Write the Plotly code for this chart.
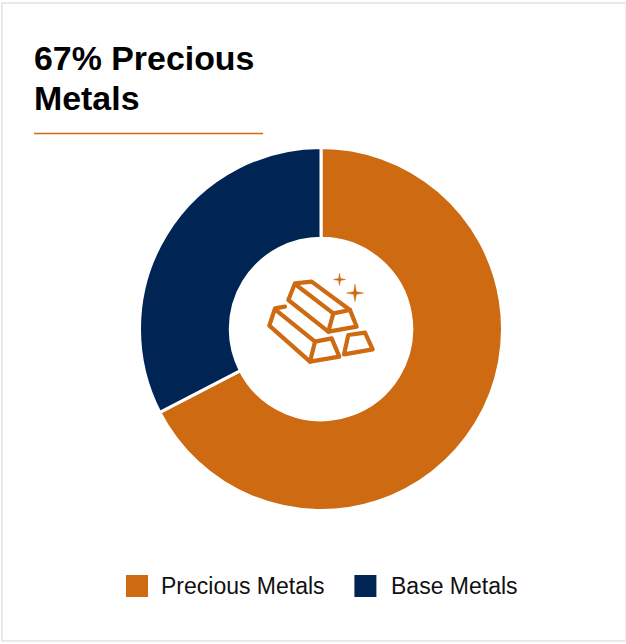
import plotly.graph_objects as go

categories = ["Precious Metals", "Base Metals"]
values = [67.4, 32.6]
colors = ["#CE6A12", "#002554"]
title_lines = ["67% Precious", "Metals"]

W, H = 626, 644

def px(x):
    return x / W

def py(y):
    return 1 - y / H

def path(points, close=False):
    s = "M " + " L ".join(f"{px(x):.5f},{py(y):.5f}" for x, y in points)
    return s + (" Z" if close else "")

def ic(points):
    return [(250 + x / 3, 260 + y / 3) for x, y in points]

def sparkle(cx, cy, r):
    k = r * 0.16
    return [(cx, cy - r), (cx + k, cy - k), (cx + r, cy), (cx + k, cy + k),
            (cx, cy + r), (cx - k, cy + k), (cx - r, cy), (cx - k, cy - k)]

ICON = colors[0]
icon_paths = [
    (ic([(135, 70), (185, 65), (300, 150), (320, 200), (235, 215), (115, 120)]), True),
    (ic([(135, 72), (250, 160), (235, 215)]), False),
    (ic([(250, 160), (300, 150)]), False),
    (ic([(105, 140), (75, 145), (58, 197), (180, 305), (268, 290), (245, 235), (195, 245), (75, 148)]), False),
    (ic([(195, 245), (180, 305)]), False),
    (ic([(295, 225), (345, 218), (368, 268), (282, 283)]), True),
]

shapes = []
for pts, closed in icon_paths:
    shapes.append(dict(type="path", xref="paper", yref="paper", path=path(pts, closed),
                       line=dict(color=ICON, width=4.2)))
for cx, cy, r in [(339.5, 279.5, 6), (355, 293, 8.5)]:
    shapes.append(dict(type="path", xref="paper", yref="paper", path=path(sparkle(cx, cy, r), True),
                       fillcolor=ICON, line=dict(color=ICON, width=0.5)))

# card border, title rule, legend swatches
BORDER = "#E6E6E6"
shapes += [
    dict(type="rect", xref="paper", yref="paper", x0=px(1), x1=px(2.7), y0=py(2.3), y1=py(641.7),
         fillcolor=BORDER, line=dict(width=0)),
    dict(type="rect", xref="paper", yref="paper", x0=px(1), x1=px(626), y0=py(2.3), y1=py(4),
         fillcolor=BORDER, line=dict(width=0)),
    dict(type="rect", xref="paper", yref="paper", x0=px(1), x1=px(626), y0=py(640), y1=py(641.7),
         fillcolor=BORDER, line=dict(width=0)),
    dict(type="rect", xref="paper", yref="paper", x0=px(625), x1=px(626), y0=py(2.3), y1=py(641.7),
         fillcolor="#F1F1F1", line=dict(width=0)),
    dict(type="rect", xref="paper", yref="paper", x0=px(34), x1=px(263), y0=py(132.7), y1=py(134.2),
         fillcolor=colors[0], line=dict(width=0)),
    dict(type="rect", xref="paper", yref="paper", x0=px(126), x1=px(148), y0=py(575), y1=py(597),
         fillcolor=colors[0], line=dict(width=0)),
    dict(type="rect", xref="paper", yref="paper", x0=px(354.4), x1=px(376.4), y0=py(575), y1=py(597),
         fillcolor=colors[1], line=dict(width=0)),
]

FONT = "Liberation Sans, Arial, sans-serif"
annotations = []
for y, line in zip([58, 98], title_lines):
    annotations.append(dict(x=px(34), y=py(y), text=f"<b>{line}</b>", xref="paper", yref="paper",
                            showarrow=False, xanchor="left", yanchor="middle", xshift=-2,
                            font=dict(family=FONT, size=33.9, color="#000000")))
for x, label in zip([161, 391], categories):
    annotations.append(dict(x=px(x), y=py(586), text=label, xref="paper", yref="paper", showarrow=False,
                            xanchor="left", yanchor="middle", xshift=-2,
                            font=dict(family=FONT, size=23, color="#111111")))

fig = go.Figure(go.Pie(
    labels=categories, values=values, hole=0.5, sort=False, direction="clockwise",
    rotation=0, textinfo="none", hoverinfo="label+percent",
    marker=dict(colors=colors, line=dict(color="#FFFFFF", width=3)),
    domain=dict(x=[px(139.5), px(502.5)], y=[py(510.5), py(147.5)]),
    showlegend=False,
))
fig.update_layout(
    width=W, height=H, margin=dict(l=0, r=0, t=0, b=0),
    paper_bgcolor="#FFFFFF", shapes=shapes, annotations=annotations,
)
post = ("document.body.style.margin='0';"
        "document.querySelectorAll('.shapelayer path').forEach(p=>{p.style.strokeLinejoin='round';p.style.strokeLinecap='round';});")
fig.write_html("out.html", config={"displayModeBar": False}, post_script=post)
